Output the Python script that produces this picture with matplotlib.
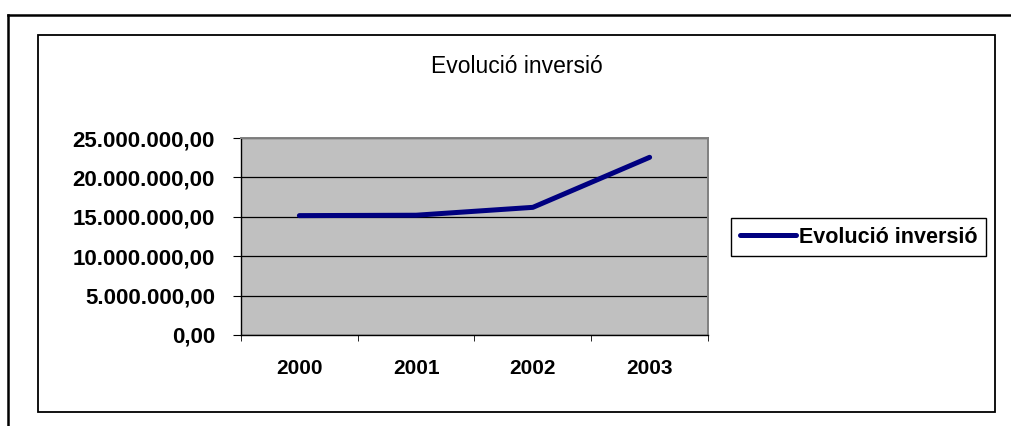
import matplotlib
matplotlib.use("Agg")
import matplotlib.pyplot as plt
from matplotlib.lines import Line2D
from matplotlib.ticker import FuncFormatter, FixedLocator

plt.rcParams['font.family'] = ['Liberation Sans', 'DejaVu Sans']

years = ['2000', '2001', '2002', '2003']
inversio = [15150000, 15200000, 16200000, 22550000]
title = 'Evolució inversió'
series_name = 'Evolució inversió'

W, H = 1012, 426
fig = plt.figure(figsize=(W / 100, H / 100), dpi=100)


def fx(px):
    return px / W


def fy(py):
    return 1 - py / H


# outer and inner frames (Excel chart object borders)
fig.add_artist(Line2D([fx(8), fx(8)], [fy(15), fy(426)], color='black', lw=1.8))
fig.add_artist(Line2D([fx(8), fx(1012)], [fy(15), fy(15)], color='black', lw=1.8))
fig.add_artist(plt.Rectangle((fx(38), fy(412)), fx(995) - fx(38), fy(35) - fy(412),
                             fill=False, edgecolor='black', lw=1.3, transform=fig.transFigure))

ax = fig.add_axes([fx(241), fy(335), fx(708) - fx(241), fy(138) - fy(335)])
ax.set_facecolor('#C0C0C0')
x = [i + 0.5 for i in range(len(years))]
ax.plot(x, inversio, color='#000080', lw=3.6, solid_capstyle='round', label=series_name)

ax.set_xlim(0, 4)
ax.set_ylim(0, 25000000)
ax.set_yticks(range(0, 25000001, 5000000))
ax.yaxis.set_major_formatter(FuncFormatter(
    lambda v, p: f"{v:,.2f}".replace(',', 'X').replace('.', ',').replace('X', '.')))
ax.grid(axis='y', color='black', lw=0.9)
ax.set_axisbelow(True)

ax.xaxis.set_major_locator(FixedLocator(x))
ax.set_xticklabels(years)
ax.xaxis.set_minor_locator(FixedLocator([0, 1, 2, 3, 4]))
ax.tick_params(axis='x', which='major', length=0, pad=17)
ax.tick_params(axis='x', which='minor', length=4.3, direction='out', color='black')
ax.tick_params(axis='y', length=5.8, direction='out', pad=13)
for lab in ax.get_xticklabels():
    lab.set_fontweight('bold')
    lab.set_fontsize(15)
for lab in ax.get_yticklabels():
    lab.set_fontweight('bold')
    lab.set_fontsize(16)

for s in ['top', 'right']:
    ax.spines[s].set_color('#808080')
    ax.spines[s].set_linewidth(1.4)
for s in ['left', 'bottom']:
    ax.spines[s].set_color('black')
    ax.spines[s].set_linewidth(1.0)

fig.text(fx(516.5), fy(73.3), title, ha='center', va='baseline', fontsize=16.5)

leg = ax.legend(loc='center left', bbox_to_anchor=(fx(731), fy(237)),
                bbox_transform=fig.transFigure, fancybox=False, framealpha=1,
                edgecolor='black', prop={'weight': 'bold', 'size': 15.5},
                handlelength=2.6, handletextpad=0.15, borderpad=0.4, borderaxespad=0)
leg.get_frame().set_linewidth(1.0)

fig.savefig('out.png', dpi=100)
